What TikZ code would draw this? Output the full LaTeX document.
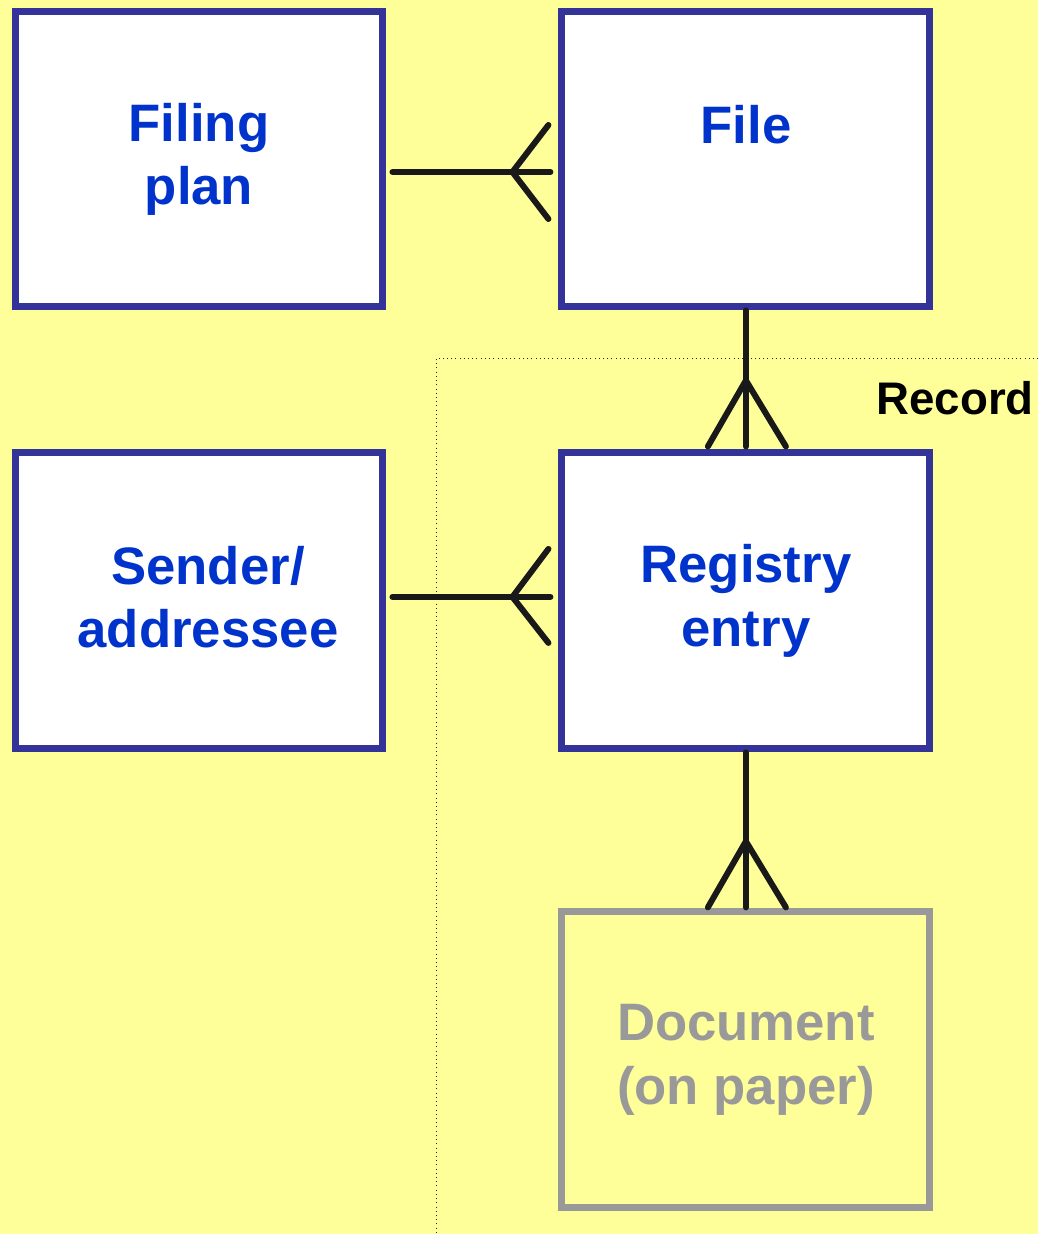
\documentclass[tikz,border=0pt]{standalone}
\usepackage{fontspec}
\setmainfont{Liberation Sans}
\usetikzlibrary{positioning, calc}

\definecolor{PaleYellow}{HTML}{FFFF99}
\definecolor{BoxBlue}{HTML}{333399}
\definecolor{LabelBlue}{HTML}{0033CC}
\definecolor{DocGrey}{HTML}{999999}

\begin{document}
\begin{tikzpicture}[x=0.02cm, y=-0.02cm,
    entity/.style={draw=BoxBlue, fill=white, line width=0.14cm,
      minimum width=7.36cm, minimum height=5.92cm, align=center,
      text=LabelBlue, font=\fontsize{30}{36}\selectfont\bfseries},
    entitytext/.style={text=LabelBlue, align=center,
      font=\fontsize{30}{36}\selectfont\bfseries},
    paper/.style={entity, draw=DocGrey, fill=PaleYellow, text=DocGrey},
    link/.style={line width=0.12cm, line cap=round, line join=round,
      draw=black!90}]
  \fill[PaleYellow] (0,0) rectangle (1038,1234);
  \useasboundingbox (0,0) rectangle (1038,1234);

  % record frame
  \draw[dotted, thin, black!85] (1038,358) -- (436,358) -- (436,1234);
  \node[anchor=base east, font=\fontsize{26}{30}\selectfont\bfseries]
    (record) at (1040,414) {Record};

  % entities
  \node[entity] (fplan) at (199,159) {Filing\\plan};
  \node[entity, right=3.44cm of fplan,
    label={[entitytext, yshift=0.68cm]center:File}] (file) {};
  \node[entity, below=2.78cm of fplan,
    label={[entitytext, xshift=0.18cm, yshift=0.08cm]center:Sender/\\addressee}]
    (sender) {};
  \node[entity, below=2.78cm of file] (reg) {Registry\\entry};
  \node[paper, below=3.12cm of reg] (doc) {Document\\(on paper)};

  % filing plan -< file
  \draw[link] ($(fplan.east)+(6,13)$) -- ($(file.west)+(-8,13)$);
  \draw[link] ($(file.west)+(-10,-34)$) -- ($(file.west)+(-46,13)$)
    -- ($(file.west)+(-10,60)$);
  % file -< registry entry
  \draw[link] (file.south) -- ($(reg.north)+(0,-3)$);
  \draw[link] ($(reg.north)+(-38,-3)$) -- ($(reg.north)+(0,-69)$)
    -- ($(reg.north)+(40,-3)$);
  % sender -< registry entry
  \draw[link] ($(sender.east)+(6,-4)$) -- ($(reg.west)+(-8,-4)$);
  \draw[link] ($(reg.west)+(-10,-52)$) -- ($(reg.west)+(-46,-4)$)
    -- ($(reg.west)+(-10,42)$);
  % registry entry -< document
  \draw[link] (reg.south) -- ($(doc.north)+(0,-1)$);
  \draw[link] ($(doc.north)+(-38,-1)$) -- ($(doc.north)+(0,-67)$)
    -- ($(doc.north)+(40,-1)$);
\end{tikzpicture}
\end{document}
